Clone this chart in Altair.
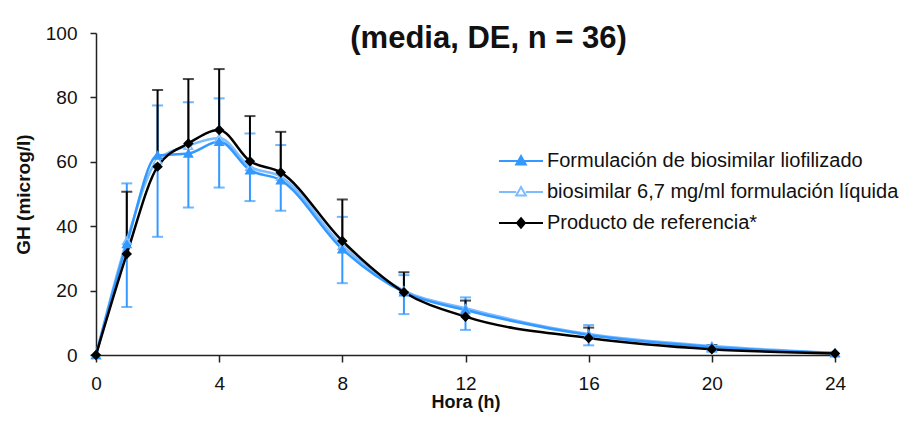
import altair as alt
import pandas as pd

hours = [0, 1, 2, 3, 4, 5, 6, 8, 10, 12, 16, 20, 24]
series_names = [
    "biosimilar 6,7 mg/ml formulación líquida",
    "Formulación de biosimilar liofilizado",
    "Producto de referencia*",
]
legend_order = [
    "Formulación de biosimilar liofilizado",
    "biosimilar 6,7 mg/ml formulación líquida",
    "Producto de referencia*",
]
liofilizado = [0, 34.5, 62.0, 62.6, 66.3, 57.4, 54.3, 32.9, 19.5, 14.0, 6.2, 2.5, 0.6]
liquida = [0, 35.5, 60.5, 65.0, 67.4, 58.5, 55.4, 34.0, 20.0, 14.5, 6.5, 2.8, 0.7]
referencia = [0, 31.4, 58.5, 65.7, 69.9, 60.2, 56.7, 35.4, 19.5, 11.9, 5.3, 1.8, 0.5]

# error bar ends
bar_hours = [1, 2, 3, 4, 5, 6, 8, 10, 12, 16, 20]
blue_low = [14.9, 36.7, 45.8, 52.0, 47.8, 44.8, 22.3, 12.7, 7.8, 3.0, 1.0]
blue_high = [53.3, 77.5, 78.5, 79.7, 68.8, 65.2, 42.9, 24.8, 17.9, 9.3, 3.1]
ref_mean = [31.4, 58.5, 65.7, 69.9, 60.2, 56.7, 35.4, 19.5, 11.9, 5.3, 1.8]
ref_high = [50.7, 82.3, 85.7, 88.8, 74.2, 69.3, 48.3, 25.7, 16.9, 8.5, 3.0]

x_ticks = [0, 4, 8, 12, 16, 20, 24]
y_ticks = [0, 20, 40, 60, 80, 100]

BLUE = "#3399ff"
LIGHT = "#7dbcff"
BLACK = "#000000"
colors = [LIGHT, BLUE, BLACK]
fills = ["white", BLUE, BLACK]
shapes = ["triangle-up", "triangle-up", "diamond"]

# legend glyphs: a line segment with the marker in the middle
leg_colors = [BLUE, LIGHT, BLACK]
leg_fills = [BLUE, "white", BLACK]
leg_shapes = [
    "M-2.2,0H2.2M0,-0.5L0.48,0.35L-0.48,0.35Z",
    "M-2.2,0H-0.48M0.48,0H2.2M0,-0.5L0.48,0.35L-0.48,0.35Z",
    "M-2.2,0H2.2M0,-0.48L0.4,0L0,0.48L-0.4,0Z",
]

rows = []
for name, vals in zip(series_names, [liquida, liofilizado, referencia]):
    for t, v in zip(hours, vals):
        rows.append({"t": t, "v": v, "serie": name})
df = pd.DataFrame(rows)
blue_df = pd.DataFrame({"t": bar_hours, "lo": blue_low, "hi": blue_high})
ref_df = pd.DataFrame({"t": bar_hours, "lo": ref_mean, "hi": ref_high})

FONT = "Liberation Sans"

x = alt.X("t:Q", scale=alt.Scale(domain=[0, 24], nice=False),
          axis=alt.Axis(values=x_ticks, title="Hora (h)", grid=False, tickSize=7,
                        labelPadding=12, titlePadding=0, labelFlush=False,
                        titleFontSize=18))
y = alt.Y("v:Q", scale=alt.Scale(domain=[0, 100], nice=False),
          axis=alt.Axis(values=y_ticks, title="GH (microg/l)", grid=False, tickSize=6,
                        labelPadding=13, titlePadding=12, labelFlush=False))

legend = alt.Legend(
    title=None, orient="none", legendX=414, legendY=117, padding=0,
    values=legend_order, symbolSize=400, labelOffset=15, rowPadding=10,
    labelFont=FONT, labelFontSize=20, labelColor="#111", labelLimit=600,
    symbolStrokeWidth=2, symbolOpacity=1,
)

color_scale = alt.Scale(domain=series_names, range=colors)

lines = alt.Chart(df).mark_line(interpolate="monotone", strokeWidth=2.5).encode(
    x=x, y=y, color=alt.Color("serie:N", scale=color_scale, legend=None)
)
points = alt.Chart(df).mark_point(filled=False, size=70, strokeWidth=1.5, opacity=1).encode(
    x=x, y=y,
    color=alt.Color("serie:N", scale=color_scale, legend=None),
    fill=alt.Fill("serie:N", scale=alt.Scale(domain=series_names, range=fills), legend=None),
    shape=alt.Shape("serie:N", scale=alt.Scale(domain=series_names, range=shapes), legend=None),
)
legend_layer = alt.Chart(df).mark_point(filled=False, strokeWidth=2).encode(
    x=x, y=y, opacity=alt.value(0),
    color=alt.Color("serie:N", scale=alt.Scale(domain=legend_order, range=leg_colors), legend=legend),
    fill=alt.Fill("serie:N", scale=alt.Scale(domain=legend_order, range=leg_fills), legend=legend),
    shape=alt.Shape("serie:N", scale=alt.Scale(domain=legend_order, range=leg_shapes), legend=legend),
)

blue_rule = alt.Chart(blue_df).mark_rule(color=BLUE, strokeWidth=2).encode(
    x="t:Q", y="lo:Q", y2="hi:Q")
blue_cap_lo = alt.Chart(blue_df).mark_tick(color=BLUE, orient="horizontal", size=11, thickness=2).encode(
    x="t:Q", y="lo:Q")
blue_cap_hi = alt.Chart(blue_df).mark_tick(color=BLUE, orient="horizontal", size=11, thickness=2).encode(
    x="t:Q", y="hi:Q")
ref_rule = alt.Chart(ref_df).mark_rule(color=BLACK, strokeWidth=2).encode(
    x="t:Q", y="lo:Q", y2="hi:Q")
ref_cap = alt.Chart(ref_df).mark_tick(color=BLACK, orient="horizontal", size=11, thickness=2).encode(
    x="t:Q", y="hi:Q")

chart = alt.layer(
    blue_rule, blue_cap_lo, blue_cap_hi, ref_rule, ref_cap, lines, points, legend_layer
).resolve_scale(
    color="independent", fill="independent", shape="independent"
).properties(
    width=739, height=322,
    autosize=alt.AutoSizeParams(type="none"),
    padding={"left": 88, "top": 25, "right": 78, "bottom": 58},
    title=alt.TitleParams("(media, DE, n = 36)", font=FONT, fontSize=31, fontWeight="bold",
                          color="#111", anchor="middle", frame="group", dx=23, dy=46,
                          baseline="middle", offset=0),
).configure_view(stroke=None).configure_axis(
    labelFont=FONT, labelFontSize=19, labelColor="#111",
    titleFont=FONT, titleFontSize=19, titleFontWeight="bold", titleColor="#111",
    domainColor="#222", domainWidth=1.5, tickColor="#222", tickWidth=1.5,
)

chart.save("out.html", embed_options={"renderer": "svg", "actions": False})
